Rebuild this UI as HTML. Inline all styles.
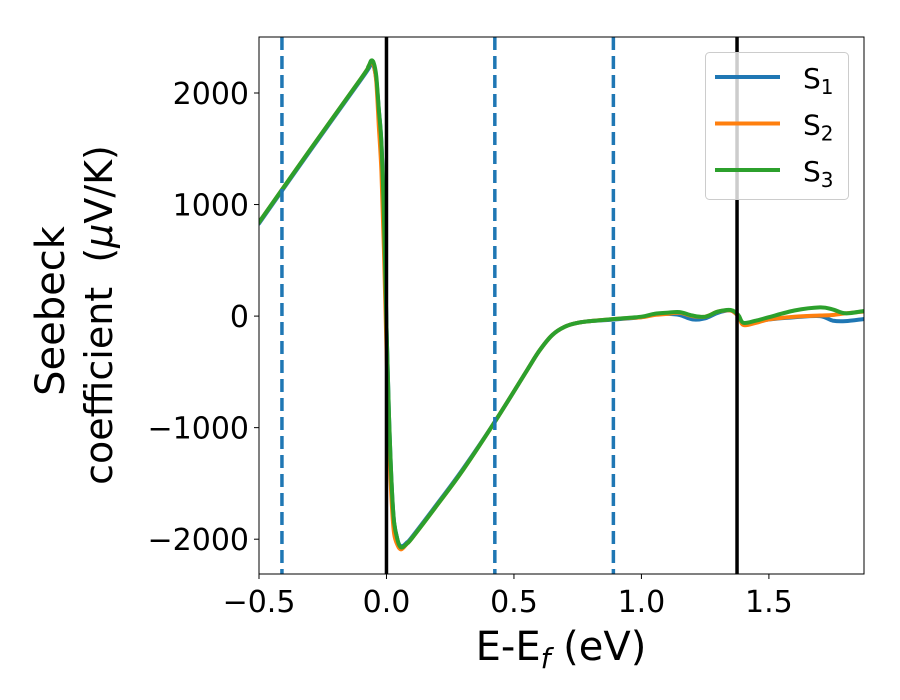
<!DOCTYPE html>
<html><head><meta charset="utf-8"><style>
html,body{margin:0;padding:0;background:#fff;}
svg{display:block;font-family:"DejaVu Sans","Liberation Sans",sans-serif;}
</style></head><body>
<div style="position:relative;width:900px;height:700px;">
<svg id="chart" width="900" height="700" viewBox="0 0 900 700" style="position:absolute;left:0;top:0;">
<g id="plot"></g>
<g id="axes"></g>
<text x="561" y="660" text-anchor="middle" font-size="40">E-E<tspan font-size="28" dy="8" font-style="italic">f</tspan><tspan dy="-8"> (eV)</tspan></text>
<g>
<text transform="translate(64,311) rotate(-90)" text-anchor="middle" font-size="40">Seebeck</text>
<text transform="translate(112,315) rotate(-90)" text-anchor="middle" font-size="38" xml:space="preserve">coefficient  (<tspan font-style="italic">μ</tspan>V/K)</text>
</g>
</svg>
</div>
<script>
const E = [-0.5,-0.3,-0.1,-0.07,-0.06,-0.05,-0.04,-0.03,-0.02,-0.01,0,0.01,0.02,0.03,0.045,0.055,0.065,0.08,0.1,0.2,0.3,0.43,0.55,0.6,0.65,0.7,0.75,0.8,0.9,1.0,1.05,1.1,1.15,1.2,1.25,1.3,1.35,1.38,1.4,1.45,1.5,1.6,1.7,1.75,1.8,1.87];
const S1 = [830,1480,2120,2220,2260,2240,2120,1850,1560,900,-100,-900,-1500,-1850,-2020,-2060,-2060,-2030,-1980,-1680,-1370,-930,-490,-310,-170,-95,-60,-45,-30,-10,15,20,10,-30,-20,30,50,0,-75,-55,-30,-10,0,-40,-45,-27];
const S2 = [840,1490,2130,2240,2280,2250,2100,1700,1300,600,-300,-1100,-1650,-1950,-2060,-2090,-2080,-2040,-1990,-1690,-1380,-930,-490,-310,-170,-95,-60,-45,-25,-10,10,20,30,0,-5,40,50,0,-80,-60,-30,-5,5,10,25,40];
const S3 = [840,1490,2130,2240,2290,2270,2150,1850,1550,900,-100,-900,-1500,-1850,-2020,-2070,-2070,-2040,-1990,-1690,-1380,-930,-490,-310,-170,-95,-60,-45,-25,-5,20,30,36,5,-5,40,55,10,-60,-40,-10,50,78,60,25,45];
const xTicks = [-0.5,0.0,0.5,1.0,1.5];
const yTicks = [-2000,-1000,0,1000,2000];
const dashedLines = [-0.41,0.425,0.89];
const solidLines = [0.0,1.375];
const seriesNames = ["S1","S2","S3"];
const colors = ["#1f77b4","#ff7f0e","#2ca02c"];

const L=259,R=864,T=37,B=574, xmin=-0.5,xmax=1.873,ymin=-2312,ymax=2502;
const xs=v=>L+(v-xmin)/(xmax-xmin)*(R-L);
const ys=v=>B-(v-ymin)/(ymax-ymin)*(B-T);
const NS="http://www.w3.org/2000/svg";
const plot=document.getElementById('plot'), axes=document.getElementById('axes');
function mk(tag,attrs,parent){const e=document.createElementNS(NS,tag);for(const k in attrs)e.setAttribute(k,attrs[k]);parent.appendChild(e);return e;}
function smooth(pts){
  let d='M'+pts[0][0].toFixed(1)+','+pts[0][1].toFixed(1);
  for(let i=0;i<pts.length-1;i++){
    const p0=pts[Math.max(i-1,0)],p1=pts[i],p2=pts[i+1],p3=pts[Math.min(i+2,pts.length-1)];
    const c1=[p1[0]+(p2[0]-p0[0])/6,p1[1]+(p2[1]-p0[1])/6];
    const c2=[p2[0]-(p3[0]-p1[0])/6,p2[1]-(p3[1]-p1[1])/6];
    d+=' C'+c1.map(v=>v.toFixed(1)).join(',')+' '+c2.map(v=>v.toFixed(1)).join(',')+' '+p2[0].toFixed(1)+','+p2[1].toFixed(1);
  }
  return d;
}

const clip=mk('clipPath',{id:'cp'},plot);mk('rect',{x:L,y:T,width:R-L,height:B-T},clip);
const g=mk('g',{'clip-path':'url(#cp)'},plot);
[S1,S2,S3].forEach((S,i)=>{
  const p=mk('path',{d:smooth(E.map((x,j)=>[xs(x),ys(S[j])])),fill:'none',stroke:colors[i],'stroke-width':4,'stroke-linejoin':'round','stroke-linecap':'round'},g);
  
  
});
dashedLines.forEach(v=>{
  const l=mk('line',{x1:xs(v),x2:xs(v),y1:T,y2:B,stroke:'#1f77b4','stroke-width':3.5,'stroke-dasharray':'13,6'},g);
  
  
});
solidLines.forEach(v=>{
  const l=mk('line',{x1:xs(v),x2:xs(v),y1:T,y2:B,stroke:'#000','stroke-width':3.5},g);
  
  
});
const frame=mk('rect',{x:L,y:T,width:R-L,height:B-T,fill:'none',stroke:'#000','stroke-width':1},axes);


xTicks.forEach(v=>{
  mk('line',{x1:xs(v),x2:xs(v),y1:B,y2:B+5,stroke:'#000','stroke-width':1},axes);
  const t=mk('text',{x:xs(v),y:B+38,'text-anchor':'middle','font-size':30},axes);
  t.textContent=(v<0?'\u2212':'')+Math.abs(v).toFixed(1);
  
  
});
yTicks.forEach(v=>{
  mk('line',{x1:L-5,x2:L,y1:ys(v),y2:ys(v),stroke:'#000','stroke-width':1},axes);
  const t=mk('text',{x:L-10,y:ys(v)+11,'text-anchor':'end','font-size':30},axes);
  t.textContent=(v<0?'\u2212':'')+Math.abs(v);
  
  
});
const lg=mk('g',{},axes);


mk('rect',{x:705.5,y:52.5,width:143,height:147,rx:4,fill:'#fff','fill-opacity':0.8,stroke:'#ccc','stroke-width':1},lg);
seriesNames.forEach((n,i)=>{
  const y=77+i*46.5;
  const ln=mk('line',{x1:715,x2:780,y1:y,y2:y,stroke:colors[i],'stroke-width':4},lg);
  
  
  const t=mk('text',{x:803,y:y+11,'font-size':28},lg);
  t.innerHTML='S<tspan font-size="20" dy="6">'+n.slice(1)+'</tspan>';
  
  
});
</script>
</body></html>
